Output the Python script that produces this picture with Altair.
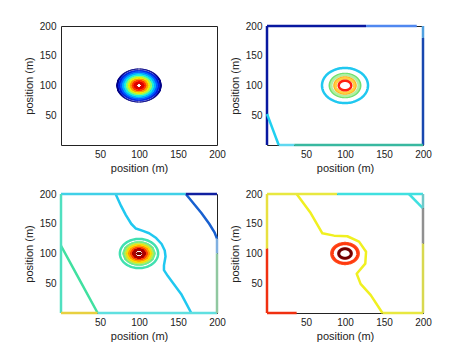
import altair as alt
import numpy as np
import pandas as pd

CX, CY = 100, 100
TICKS = [50, 100, 150, 200]
TITLE = "position (m)"

# ---------------- Panel 1 : filled contours (outer r, inner r, colour) ----
P1_FILL_KEYS = ["p1f0", "p1f1", "p1f2", "p1f3", "p1f4", "p1f5", "p1f6", "p1f7", "p1f8", "p1f9"]
P1_FILL_ROUT = [28.5, 26.0, 23.5, 21.0, 18.5, 16.0, 13.5, 11.0, 8.5, 6.0]
P1_FILL_RIN = [27.0, 23.5, 21.0, 18.5, 16.0, 13.5, 11.0, 8.5, 6.0, 3.2]
P1_FILL_COLORS = ["#00008c", "#0020e0", "#0060ff", "#00b0ff", "#20f0e0",
                  "#90ff70", "#f0f010", "#ffa000", "#ff4000", "#e00000"]

# ---------------- Panel 2 : contour lines -------------------------------
P2_RING_KEYS = ["p2r0", "p2r1", "p2r2", "p2r3", "p2r4", "p2r5"]
P2_RING_R = [29.5, 19.5, 17.5, 13.5, 12.0, 8.0]
P2_RING_COLORS = ["#20c8f0", "#70e070", "#b0f0a0", "#ffb020", "#ffd040", "#ff2010"]

P2_PATH_KEYS = ["p2a", "p2b", "p2c", "p2d", "p2e", "p2f", "p2g", "p2h"]
P2_PATH_X = [[0, 127], [127, 192], [0, 0], [200, 200], [200, 200], [15, 35], [35, 200], [0, 15]]
P2_PATH_Y = [[200, 200], [200, 200], [0, 200], [0, 180], [180, 200], [0, 0], [0, 0], [52, 0]]
P2_PATH_COLORS = ["#0818a0", "#5088f0", "#0818a0", "#1848b0", "#50a0e0", "#60d8f0", "#38b8a0", "#20d0f0"]

# ---------------- Panel 3 : lines + filled centre ------------------------
P3_FILL_KEYS = ["p3f0", "p3f1", "p3f2", "p3f3", "p3f4", "p3f5", "p3f6"]
P3_FILL_ROUT = [20.5, 18.0, 15.5, 13.0, 10.5, 8.0, 2.5]
P3_FILL_RIN = [18.0, 15.5, 13.0, 10.5, 8.0, 5.0, 0.0]
P3_FILL_COLORS = ["#70f098", "#c0f050", "#ffe000", "#ffa000", "#ff4800", "#b00000", "#800000"]

P3_RING_KEYS = ["p3r0"]
P3_RING_R = [24.5]
P3_RING_COLORS = ["#40e0b0"]

P3_PATH_KEYS = ["p3a", "p3b", "p3c", "p3d", "p3e", "p3f", "p3g", "p3h", "p3i", "p3j"]
P3_PATH_X = [
    [70, 77, 83, 90, 96, 105, 113, 122, 129, 133, 134, 132, 132, 137, 145, 154, 161, 167],
    [0, 20, 47],
    [160, 170, 180, 190, 197, 200],
    [200, 200],
    [0, 160],
    [160, 200],
    [0, 0],
    [0, 47],
    [47, 200],
    [200, 200],
]
P3_PATH_Y = [
    [200, 180, 165, 150, 142, 138, 134, 126, 116, 105, 95, 80, 72, 62, 48, 32, 15, 0],
    [113, 65, 0],
    [200, 184, 168, 150, 135, 125],
    [125, 100],
    [200, 200],
    [200, 200],
    [0, 200],
    [0, 0],
    [0, 0],
    [0, 100],
]
P3_PATH_COLORS = ["#20c8f0", "#40e0a0", "#1860d0", "#80b0e0", "#40d0e8", "#1020a0",
                  "#50e0c0", "#e8d040", "#60e0e0", "#90c8a0"]

# ---------------- Panel 4 : contour lines --------------------------------
P4_RING_KEYS = ["p4r0", "p4r1", "p4r2", "p4r3"]
P4_RING_R = [17.5, 16.0, 8.5, 7.5]
P4_RING_COLORS = ["#ff5020", "#ff3a10", "#901010", "#700000"]

P4_PATH_KEYS = ["p4a", "p4b", "p4c", "p4d", "p4e", "p4f", "p4g", "p4h", "p4i", "p4j", "p4k"]
P4_PATH_X = [
    [38, 56, 71, 86, 103, 118, 127, 126, 115, 120, 133, 148],
    [148, 200],
    [0, 90],
    [90, 200],
    [182, 200],
    [200, 200],
    [200, 200],
    [0, 0],
    [0, 0],
    [0, 38],
    [200, 200],
]
P4_PATH_Y = [
    [200, 168, 134, 130, 129, 120, 103, 83, 66, 49, 30, 0],
    [0, 0],
    [200, 200],
    [200, 200],
    [200, 176],
    [176, 200],
    [0, 117],
    [108, 200],
    [0, 108],
    [0, 0],
    [117, 176],
]
P4_PATH_COLORS = ["#f0f020", "#e8e840", "#e8e840", "#40e0e0", "#40e0e0", "#70c8c8",
                  "#d8d850", "#e8e040", "#f03010", "#f03010", "#909090"]

COLOR_KEYS = (P1_FILL_KEYS + P2_RING_KEYS + P2_PATH_KEYS + P3_FILL_KEYS + P3_RING_KEYS
              + P3_PATH_KEYS + P4_RING_KEYS + P4_PATH_KEYS)
COLOR_VALUES = (P1_FILL_COLORS + P2_RING_COLORS + P2_PATH_COLORS + P3_FILL_COLORS + P3_RING_COLORS
                + P3_PATH_COLORS + P4_RING_COLORS + P4_PATH_COLORS)


def circle_rows(keys, radii):
    rows = []
    t = np.linspace(0, 2 * np.pi, 121)
    for k, r in zip(keys, radii):
        for i, a in enumerate(t):
            rows.append({"key": k, "i": i, "x": CX + r * np.cos(a), "y": CY + r * np.sin(a)})
    return rows


def path_rows(keys, xs, ys):
    rows = []
    for k, px, py in zip(keys, xs, ys):
        for i, (a, b) in enumerate(zip(px, py)):
            rows.append({"key": k, "i": i, "x": a, "y": b})
    return rows


def annulus_rows(keys, routs, rins):
    rows = []
    for k, ro, ri in zip(keys, routs, rins):
        t = np.linspace(0, np.pi, 91)
        xs = np.unique(np.round(np.concatenate([CX + ro * np.cos(t), CX + ri * np.cos(t)]), 6))
        for x in xs:
            dx = x - CX
            yo = np.sqrt(max(ro * ro - dx * dx, 0.0))
            yi = np.sqrt(max(ri * ri - dx * dx, 0.0)) if abs(dx) < ri else 0.0
            rows.append({"key": k, "piece": k + "_u", "x": x, "y": CY + yi, "y2": CY + yo})
            rows.append({"key": k, "piece": k + "_l", "x": x, "y": CY - yo, "y2": CY - yi})
    return rows


def scale():
    return alt.Scale(domain=COLOR_KEYS, range=COLOR_VALUES)


def xenc():
    return alt.X("x:Q", scale=alt.Scale(domain=[0, 200], nice=False, zero=False),
                 axis=alt.Axis(values=TICKS, title=TITLE, grid=False, domain=False, ticks=False,
                               labelFlush=False, labelPadding=4, titlePadding=3))


def yenc():
    return alt.Y("y:Q", scale=alt.Scale(domain=[0, 200], nice=False, zero=False), stack=None,
                 axis=alt.Axis(values=TICKS, title=TITLE, grid=False, domain=False, ticks=False,
                               labelPadding=5, titlePadding=5))


def panel(fill, lines):
    layers = []
    if fill:
        layers.append(
            alt.Chart(pd.DataFrame(fill)).mark_area(strokeWidth=0.4, interpolate="linear").encode(
                x=xenc(), y=yenc(), y2="y2:Q",
                color=alt.Color("key:N", scale=scale(), legend=None),
                stroke=alt.Stroke("key:N", scale=scale(), legend=None),
                detail="piece:N", order="x:Q"))
    if lines:
        layers.append(
            alt.Chart(pd.DataFrame(lines)).mark_line(strokeWidth=2.5, strokeJoin="round").encode(
                x=xenc(), y=yenc(),
                color=alt.Color("key:N", scale=scale(), legend=None),
                detail="key:N", order="i:Q"))
    return alt.layer(*layers).properties(width=156, height=119)


p1 = panel(annulus_rows(P1_FILL_KEYS, P1_FILL_ROUT, P1_FILL_RIN), [])
p2 = panel([], circle_rows(P2_RING_KEYS, P2_RING_R) + path_rows(P2_PATH_KEYS, P2_PATH_X, P2_PATH_Y))
p3 = panel(annulus_rows(P3_FILL_KEYS, P3_FILL_ROUT, P3_FILL_RIN),
           circle_rows(P3_RING_KEYS, P3_RING_R) + path_rows(P3_PATH_KEYS, P3_PATH_X, P3_PATH_Y))
p4 = panel([], circle_rows(P4_RING_KEYS, P4_RING_R) + path_rows(P4_PATH_KEYS, P4_PATH_X, P4_PATH_Y))

chart = alt.concat(p1, p2, p3, p4, columns=2, spacing={"row": 49, "column": 50}, bounds="flush").properties(
    padding={"left": 14, "top": 12, "right": 5, "bottom": 5},
    background="white",
).configure_view(
    stroke="#222", strokeWidth=1
).configure_axis(
    labelFont="Liberation Sans", labelFontSize=10, labelColor="#222",
    titleFont="Liberation Sans", titleFontSize=11, titleFontWeight="normal", titleColor="#222"
)

chart.save("out.html", embed_options={"renderer": "svg", "actions": False})
